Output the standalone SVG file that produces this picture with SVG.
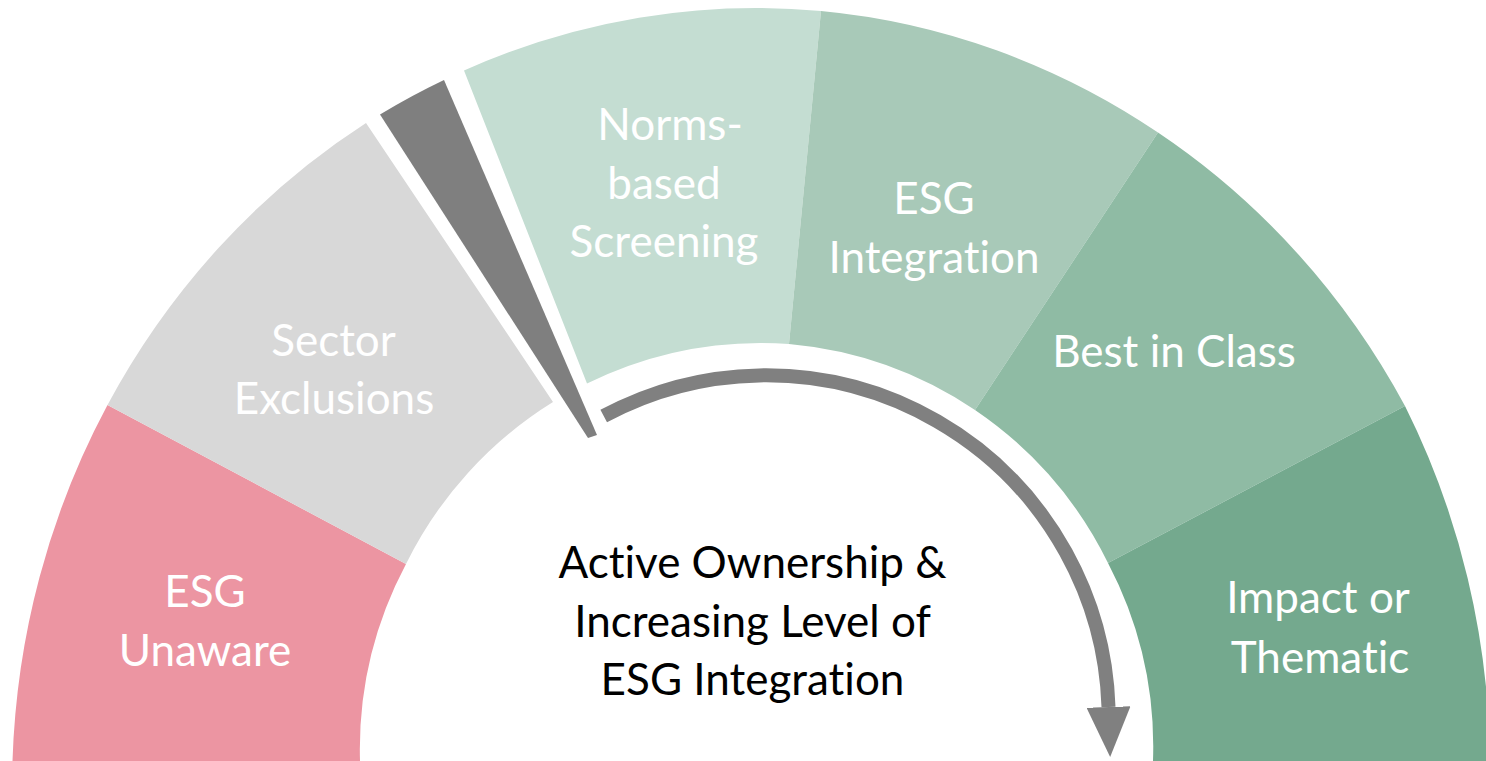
<svg xmlns="http://www.w3.org/2000/svg" width="1486" height="761" viewBox="0 0 1486 761">
  <style>
    .lbl { font-family: Lato, "Liberation Sans", sans-serif; font-size: 44px; fill: #ffffff; text-anchor: middle; font-variant-ligatures: none; }
    .ctr { font-family: Lato, "Liberation Sans", sans-serif; font-size: 44px; fill: #000000; text-anchor: middle; font-variant-ligatures: none; }
    .conn { fill: none; stroke: #808080; stroke-width: 14; stroke-linecap: butt; }
  </style>
  <defs>
    <marker id="ah" markerUnits="userSpaceOnUse" viewBox="0 0 50 44" refX="0" refY="22" markerWidth="50" markerHeight="44" orient="auto">
      <path d="M0,0 L50,22 L0,44 Z" fill="#808080"/>
    </marker>
  </defs>
  <rect width="1486" height="761" fill="#ffffff"/>

  <g id="esg-unaware">
    <path d="M12.5 761 A744.5 780 0 0 1 107.5 405 L406 564 A397 397 0 0 0 360 761 Z" fill="#EC95A2"/>
    <text class="lbl" x="205" y="607">ESG</text>
    <text class="lbl" x="205" y="666">Unaware</text>
  </g>

  <g id="sector-exclusions">
    <path d="M107.5 405 A744.5 780 0 0 1 366 123 L553 402 A397 397 0 0 0 406 564 Z" fill="#D8D8D8"/>
    <text class="lbl" x="333.5" y="356">Sector</text>
    <text class="lbl" x="334" y="414">Exclusions</text>
  </g>

  <g id="pointer">
    <path d="M380 114.5 A744.5 780 0 0 1 444 80 L597 435 L588 438 Z" fill="#7F7F7F"/>
  </g>

  <g id="norms-based-screening">
    <path d="M464 70.5 A744.5 780 0 0 1 821 11 L789 344 A397 397 0 0 0 587 383.5 Z" fill="#C4DDD2"/>
    <text class="lbl" x="670" y="140">Norms-</text>
    <text class="lbl" x="664" y="198.5">based</text>
    <text class="lbl" x="664" y="257">Screening</text>
  </g>

  <g id="esg-integration">
    <path d="M821 11 A744.5 780 0 0 1 1158 132.5 L975 410 A397 397 0 0 0 789 344 Z" fill="#A8C9B8"/>
    <text class="lbl" x="934" y="214">ESG</text>
    <text class="lbl" x="934" y="273">Integration</text>
  </g>

  <g id="best-in-class">
    <path d="M1158 132.5 A744.5 780 0 0 1 1405 406 L1108 563 A397 397 0 0 0 975 410 Z" fill="#8FBBA4"/>
    <text class="lbl" x="1174" y="367">Best in Class</text>
  </g>

  <g id="impact-or-thematic">
    <path d="M1405 406 A744.5 780 0 0 1 1490 761 L1153 761 A397 397 0 0 0 1108 563 Z" fill="#74A98E"/>
    <text class="lbl" x="1318" y="613">Impact or</text>
    <text class="lbl" x="1320" y="673">Thematic</text>
  </g>

  <g id="center-label">
    <text class="ctr" x="752.5" y="578">Active Ownership &amp;</text>
    <text class="ctr" x="752.5" y="637">Increasing Level of</text>
    <text class="ctr" x="752.5" y="695">ESG Integration</text>
  </g>

  <g id="connectors">
    <path class="conn" d="M603.7 416 A343 343 0 0 1 1108.5 707" marker-end="url(#ah)"/>
  </g>
</svg>
